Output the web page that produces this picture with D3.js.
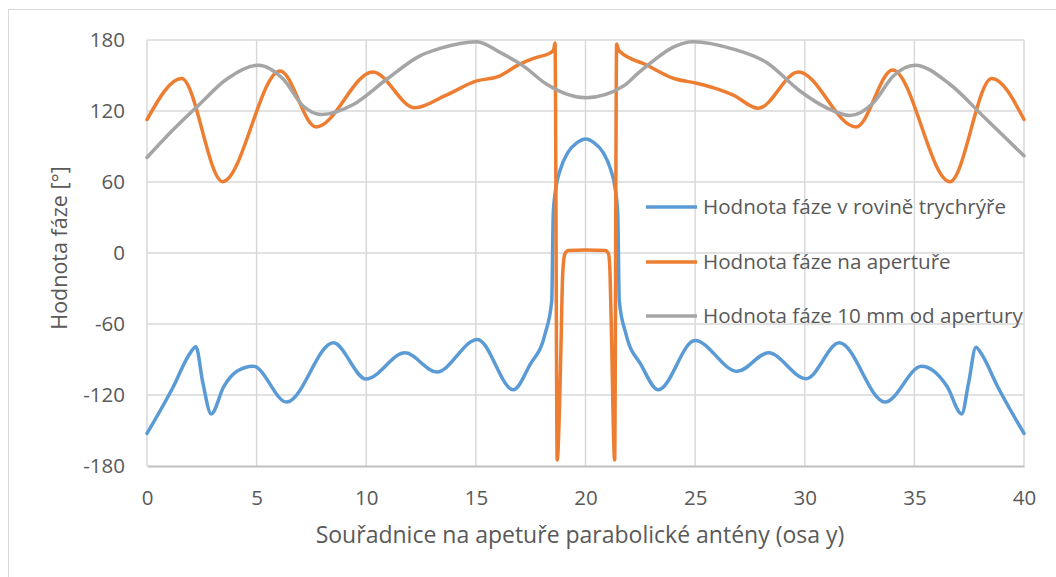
<!DOCTYPE html>
<html>
<head>
<meta charset="utf-8">
<script src="https://cdn.jsdelivr.net/npm/d3@7"></script>
<style>
  html, body { margin: 0; padding: 0; background: #ffffff; }
  svg text { font-family: "Open Sans", "Noto Sans", sans-serif; fill: #595959; }
</style>
</head>
<body>
<svg id="chart" width="1056" height="577"></svg>
<script>
// ---- data ----
const seriesNames = [
  "Hodnota fáze v rovině trychrýře",
  "Hodnota fáze na apertuře",
  "Hodnota fáze 10 mm od apertury"
];
const xTicks = [0, 5, 10, 15, 20, 25, 30, 35, 40];
const yTicks = [-180, -120, -60, 0, 60, 120, 180];

// blue: phase in the horn plane
const blueX = [0, 1.2, 1.96, 2.23, 2.55, 2.93, 3.5, 4.1, 4.85, 6.37, 8.5, 9.99, 11.77, 13.21, 15.07, 16.71, 17.47, 18.15, 18.46, 18.53, 18.65, 18.84, 19.2, 19.6, 20.02, 20.4, 20.8, 21.16, 21.35, 21.47, 21.54, 21.85, 22.53, 23.32, 24.99, 26.92, 28.34, 30.06, 31.58, 33.66, 35.33, 35.9, 36.5, 37.16, 37.47, 37.81, 38.04, 38.8, 40];
const blueY = [-152.5, -113, -84.8, -79.3, -110, -136, -113, -100, -95.7, -126, -75.9, -106.5, -84.4, -100.6, -73, -115.6, -94.3, -68.8, -40.4, 33.6, 55, 70, 85, 93, 96.3, 93, 85, 70, 55, 33.6, -40.4, -68.8, -94.3, -115.6, -73.9, -100, -84.4, -106.2, -75.9, -126, -95.7, -100, -113, -136, -110, -79.6, -84.8, -113, -152.5];

// orange: phase on the aperture
const orangeX = [0, 1.58, 3.45, 6.07, 7.71, 10.3, 12.22, 13.6, 15.04, 16.0, 17.0, 17.77, 18.38, 18.55, 18.61, 18.71, 18.8, 18.88, 18.96, 19.06, 19.22, 20.0, 20.9, 21.05, 21.12, 21.2, 21.26, 21.33, 21.42, 21.5, 21.57, 22.79, 24.0, 25.07, 26.13, 26.74, 27.88, 29.71, 32.34, 34.01, 36.62, 38.53, 40];
const orangeY = [112.8, 147.4, 60.3, 153.9, 106.5, 153, 122.7, 133, 145.4, 149, 159.6, 165.3, 168.9, 172, 177.4, -175, -140, -80, -17.7, -0.7, 2.1, 2.5, 2.1, -0.7, -17.7, -80, -140, -175, 176.6, 172, 170.2, 158.9, 147.7, 143.5, 137.9, 133.5, 122.3, 153, 106.5, 154.7, 60.3, 147.4, 112.8];

// gray: phase 10 mm from the aperture
const grayX = [0, 1.2, 2.34, 3.63, 5.08, 6.22, 7.13, 7.97, 9.41, 10.93, 12.45, 13.36, 15.04, 16.1, 17.16, 18.23, 20.02, 21.73, 22.4, 23.09, 24.0, 24.92, 26.74, 28.26, 29.78, 31.0, 32.06, 33.13, 34.04, 35.03, 36.62, 38.14, 40];
const grayY = [80.7, 104.3, 124.7, 146.8, 158.7, 146.8, 124, 117, 125.5, 146.8, 166.6, 172.9, 178.6, 169.5, 158.1, 142.6, 131.2, 141.1, 152, 162.4, 174, 178.6, 172.3, 161, 136.9, 122.7, 116.2, 127, 149.6, 158.7, 142.6, 115.6, 82.1];

const colors = ["#5B9BD5", "#ED7D31", "#A5A5A5"];

// ---- drawing ----
const svg = d3.select("#chart");
const x = d3.scaleLinear().domain([0, 40]).range([147, 1024]);
const y = d3.scaleLinear().domain([-180, 180]).range([466, 40]);

// outer chart border
svg.append("rect").attr("x", 8.5).attr("y", 9.5).attr("width", 1100).attr("height", 700)
  .attr("fill", "none").attr("stroke", "#d9d9d9").attr("stroke-width", 1);

// gridlines
svg.append("g").selectAll("line").data(yTicks.filter(d => d !== -180)).join("line")
  .attr("x1", x(0)).attr("x2", x(40)).attr("y1", d => y(d)).attr("y2", d => y(d))
  .attr("stroke", "#d9d9d9").attr("stroke-width", 1.5);
svg.append("g").selectAll("line").data(xTicks).join("line")
  .attr("x1", d => x(d)).attr("x2", d => x(d)).attr("y1", y(180)).attr("y2", y(-180))
  .attr("stroke", "#d9d9d9").attr("stroke-width", 1.5);

// x axis (bottom line + labels)
const xAxis = d3.axisBottom(x).tickValues(xTicks).tickSize(0).tickPadding(24).tickFormat(d => String(d));
const gx = svg.append("g").attr("transform", `translate(0,${y(-180)})`).call(xAxis);
gx.select(".domain").attr("stroke", "#bfbfbf").attr("stroke-width", 2);
gx.selectAll("text").style("font-size", "20.5px").attr("fill", "#595959");

// y axis labels
const yAxis = d3.axisLeft(y).tickValues(yTicks).tickSize(0).tickPadding(22).tickFormat(d => String(d));
const gy = svg.append("g").attr("transform", `translate(${x(0)},0)`).call(yAxis);
gy.select(".domain").remove();
gy.selectAll("text").style("font-size", "20.5px").attr("fill", "#595959");

// series
const series = [
  { xs: blueX, ys: blueY },
  { xs: orangeX, ys: orangeY },
  { xs: grayX, ys: grayY }
];
const line = d3.line()
  .x(d => x(d[0])).y(d => y(d[1]))
  .curve(d3.curveMonotoneX);
series.forEach((s, i) => {
  const pts = s.xs.map((v, k) => [v, s.ys[k]]);
  svg.append("path").datum(pts)
    .attr("d", line)
    .attr("fill", "none")
    .attr("stroke", colors[i])
    .attr("stroke-width", 3.5)
    .attr("stroke-linejoin", "round")
    .attr("stroke-linecap", "round");
});

// legend
const legendY = [207, 262, 316];
const lg = svg.append("g");
seriesNames.forEach((name, i) => {
  lg.append("line").attr("x1", 646).attr("x2", 697).attr("y1", legendY[i]).attr("y2", legendY[i])
    .attr("stroke", colors[i]).attr("stroke-width", 3.5);
  lg.append("text").attr("x", 703).attr("y", legendY[i]).attr("dy", "0.35em")
    .style("font-size", "20.6px").text(name);
});

// axis titles
svg.append("text").attr("x", 580).attr("y", 543).attr("text-anchor", "middle")
  .style("font-size", "23px").text("Souřadnice na apetuře parabolické antény (osa y)");
svg.append("text").attr("transform", `translate(67,248) rotate(-90)`).attr("text-anchor", "middle")
  .style("font-size", "21.5px").text("Hodnota fáze [°]");
</script>
</body>
</html>
